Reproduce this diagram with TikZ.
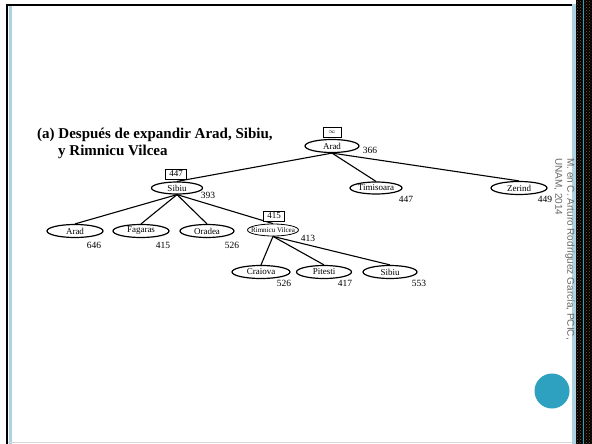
\documentclass[tikz,border=0pt]{standalone}
\usepackage{fontspec}
\setmainfont{Liberation Serif}
\newfontfamily\slidefont{Liberation Sans}
\usepackage{xcolor}
\usetikzlibrary{shapes.geometric, positioning, patterns}

\definecolor{slideblue}{RGB}{173,211,226}
\definecolor{slideteal}{RGB}{46,160,192}
\definecolor{notegray}{RGB}{105,105,105}

\begin{document}
\begin{tikzpicture}[x=1pt, y=-1pt,
            city/.style={ellipse, draw, line width=1.2pt, fill=white, inner sep=0pt, inner xsep=-4pt, minimum width=54pt, minimum height=13pt, font=\fontsize{9}{10}\selectfont},
            fval/.style={rectangle, draw, fill=white, inner sep=0.5pt, minimum width=21pt, minimum height=10pt, font=\fontsize{9}{10}\selectfont},
            hval/.style={inner sep=0pt, font=\fontsize{9.5}{10}\selectfont},
            edge/.style={line width=1.1pt}]
            \useasboundingbox (0,0) rectangle (592,444);

            % Slide frame
            \fill[white] (0,0) rectangle (592,444);
            \fill[black] (6,4) rectangle (8,444);
            \fill[black] (6,4) rectangle (576,6);
            \fill[slideblue] (9,6) rectangle (12,444);
            \fill[slideblue] (572,4) rectangle (576,444);
            \fill[black] (576,0) rectangle (592,444);
            \fill[pattern=crosshatch dots, pattern color=brown!70!black] (576,0) rectangle (592,444);
            \draw[slideteal, line width=1pt] (583.5,0) -- (583.5,444);
            \draw[black!15] (8,442.5) -- (572,442.5);
            \fill[slideteal] (552,391) circle (17.5pt);

            % Title
            \node[anchor=north west, align=left, inner sep=0pt, font=\fontsize{15}{17}\selectfont\bfseries] (title) at (37,128)
                {(a) Después de expandir Arad, Sibiu,\\\hspace{21pt}y Rimnicu Vilcea};

            % Nodes
            \node[city] (arad) at (332,146) {Arad};
            \node[city, minimum width=52pt, minimum height=12pt] (timisoara) at (376,188) {Timisoara};
            \node[city, minimum width=56pt] (zerind) at (519,188) {Zerind};
            \node[city, minimum width=51pt, minimum height=12pt] (sibiu) at (177,188) {Sibiu};

            \node[city, minimum width=56pt] (aradB) at (75,231) {Arad};
            \node[city, minimum width=56pt] (fagaras) at (141,231) {Fagaras};
            \node[city] (oradea) at (207,231) {Oradea};
            \node[city, line width=0.8pt, minimum width=51pt, minimum height=12pt, inner xsep=-8pt, font=\fontsize{7}{7}\selectfont] (rimnicu) at (273,230) {Rimnicu Vilcea};

            \node[city, minimum width=58pt] (craiova) at (261,272) {Craiova};
            \node[city, minimum width=55pt] (pitesti) at (324,272) {Pitesti};
            \node[city] (sibiuB) at (390,272) {Sibiu};

            % Edges
            \draw[edge] (arad.south) -- (sibiu.north);
            \draw[edge] (arad.south) -- (timisoara.north);
            \draw[edge] (arad.south) -- (zerind.north);

            \draw[edge] (sibiu.south) -- (aradB.north);
            \draw[edge] (sibiu.south) -- (fagaras.north);
            \draw[edge] (sibiu.south) -- (oradea.north);
            \draw[edge] (sibiu.south) -- (rimnicu.north);

            \draw[edge] (rimnicu.south) -- (craiova.north);
            \draw[edge] (rimnicu.south) -- (pitesti.north);
            \draw[edge] (rimnicu.south) -- (sibiuB.north);

            % f-limits
            \node[fval, minimum width=18pt] (fArad) at (332,132) {$\scriptstyle\infty$};
            \node[fval] (fSibiu) at (176,174) {447};
            \node[fval] (fRimnicu) at (274,216) {415};

            % h-values
            \node[hval] (hArad) at (370,150) {366};
            \node[hval] (hTimisoara) at (406,199) {447};
            \node[hval] (hZerind) at (545,199) {449};
            \node[hval] (hSibiu) at (208,195) {393};
            \node[hval] (hAradB) at (94,245) {646};
            \node[hval] (hFagaras) at (163,245) {415};
            \node[hval] (hOradea) at (232,245) {526};
            \node[hval] (hRimnicu) at (308,238) {413};
            \node[hval] (hCraiova) at (284,283) {526};
            \node[hval] (hPitesti) at (345,283) {417};
            \node[hval] (hSibiuB) at (419,283) {553};

            % Credit
            \node[rotate=-90, anchor=north west, align=left, inner sep=0pt, text=notegray, font=\slidefont\fontsize{10}{12}\selectfont] (credit) at (575,158)
                {M. en C. Arturo Rodríguez García, PCIC,\\UNAM, 2014};
\end{tikzpicture}
\end{document}
